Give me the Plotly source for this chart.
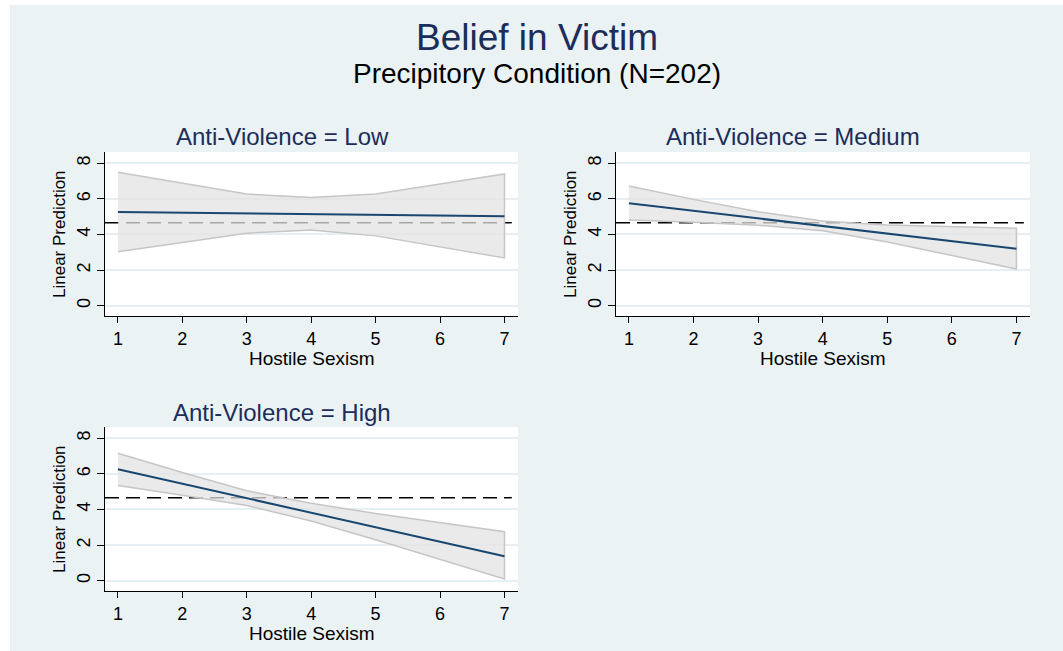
import plotly.graph_objects as go

W, H = 1063, 651

# ---- data ----
x_vals = [1, 2, 3, 4, 5, 6, 7]
x_ticks = [1, 2, 3, 4, 5, 6, 7]
y_ticks = [0, 2, 4, 6, 8]

low_mean = [5.26, 5.22, 5.18, 5.14, 5.10, 5.06, 5.02]
low_upper = [7.49, 6.87, 6.27, 6.07, 6.27, 6.83, 7.40]
low_lower = [3.03, 3.55, 4.07, 4.25, 3.92, 3.30, 2.68]

med_mean = [5.75, 5.33, 4.90, 4.48, 4.05, 3.63, 3.20]
med_upper = [6.72, 5.97, 5.28, 4.75, 4.53, 4.43, 4.35]
med_lower = [4.81, 4.68, 4.52, 4.21, 3.58, 2.83, 2.06]

high_mean = [6.26, 5.44, 4.63, 3.81, 3.00, 2.18, 1.37]
high_upper = [7.16, 6.07, 5.05, 4.35, 3.77, 3.25, 2.75]
high_lower = [5.34, 4.80, 4.22, 3.35, 2.30, 1.20, 0.09]

ref_value = 4.66

panel_titles = ["Anti-Violence = Low", "Anti-Violence = Medium", "Anti-Violence = High"]
main_title = "Belief in Victim"
subtitle = "Precipitory Condition (N=202)"
x_title = "Hostile Sexism"
y_title = "Linear Prediction"

# ---- styles ----
BG = "#EAF2F3"
NAVY = "#1A476F"
TITLE_C = "#1C2D5A"
BAND_FILL = "rgba(226,226,226,0.74)"
BAND_LINE = "#C6C6C6"
GRID = "#E6EFF2"
FONT = "Liberation Sans, Arial, sans-serif"


def fx(px):
    return px / W


def fy(py):
    return 1 - py / H


panels = [
    dict(mean=low_mean, up=low_upper, lo=low_lower, xd=(105, 518), yd=(152, 316), tx=282, ty=137),
    dict(mean=med_mean, up=med_upper, lo=med_lower, xd=(616, 1030), yd=(152, 316), tx=793, ty=137),
    dict(mean=high_mean, up=high_upper, lo=high_lower, xd=(105, 518), yd=(427, 591), tx=282, ty=412),
]

fig = go.Figure()
annotations = []
shapes = [
    dict(type="rect", xref="paper", yref="paper", x0=0, x1=fx(10), y0=0, y1=1,
         fillcolor="white", line_width=0, layer="below"),
    dict(type="rect", xref="paper", yref="paper", x0=0, x1=1, y0=fy(5), y1=1,
         fillcolor="white", line_width=0, layer="below"),
]

for i, p in enumerate(panels):
    n = "" if i == 0 else str(i + 1)
    xa, ya = "x" + n, "y" + n
    # band
    fig.add_trace(go.Scatter(x=x_vals + x_vals[::-1], y=p["up"] + p["lo"][::-1],
                             xaxis=xa, yaxis=ya, mode="lines", fill="toself",
                             fillcolor=BAND_FILL, line=dict(color=BAND_LINE, width=1.5),
                             showlegend=False, hoverinfo="skip"))
    # mean line
    fig.add_trace(go.Scatter(x=x_vals, y=p["mean"], xaxis=xa, yaxis=ya, mode="lines",
                             line=dict(color=NAVY, width=2), showlegend=False))
    # reference line
    shapes.append(dict(type="line", xref=xa + " domain", yref=ya, x0=0, x1=0.985,
                       y0=ref_value, y1=ref_value, layer="below",
                       line=dict(color="black", width=1.5, dash="14px,7px")))
    ax = dict(domain=[fx(p["xd"][0]), fx(p["xd"][1])], range=[0.8, 7.21], anchor=ya,
              tickmode="array", tickvals=x_ticks, ticks="outside", ticklen=6,
              tickcolor="black", showline=True, linecolor="black", linewidth=1,
              showgrid=False, zeroline=False, automargin=False,
              tickfont=dict(family=FONT, size=18, color="black"))
    ay = dict(domain=[fy(p["yd"][1]), fy(p["yd"][0])], range=[-0.58, 8.63], anchor=xa,
              tickmode="array", tickvals=y_ticks, ticks="outside", ticklen=7,
              tickcolor="black", showline=True, linecolor="black", linewidth=1,
              showgrid=True, gridcolor=GRID, gridwidth=1.5, zeroline=False,
              tickangle=-90, automargin=False,
              tickfont=dict(family=FONT, size=18, color="black"))
    fig.update_layout(**{"xaxis" + n: ax, "yaxis" + n: ay})

    cx = (p["xd"][0] + p["xd"][1]) / 2
    cy = (p["yd"][0] + p["yd"][1]) / 2
    annotations.append(dict(text=panel_titles[i], x=fx(p["tx"]), y=fy(p["ty"]),
                            xref="paper", yref="paper", showarrow=False,
                            xanchor="center", yanchor="middle",
                            font=dict(family=FONT, size=24, color=TITLE_C)))
    annotations.append(dict(text=x_title, x=fx(cx), y=fy(p["yd"][1] + 42),
                            xref="paper", yref="paper", showarrow=False,
                            xanchor="center", yanchor="middle",
                            font=dict(family=FONT, size=19, color="black")))
    annotations.append(dict(text=y_title, x=fx(p["xd"][0] - 46), y=fy(cy),
                            xref="paper", yref="paper", showarrow=False, textangle=-90,
                            xanchor="center", yanchor="middle",
                            font=dict(family=FONT, size=17, color="black")))

annotations.append(dict(text=main_title, x=fx(537), y=fy(37), xref="paper", yref="paper",
                        showarrow=False, xanchor="center", yanchor="middle",
                        font=dict(family=FONT, size=37, color=TITLE_C)))
annotations.append(dict(text=subtitle, x=fx(537), y=fy(73), xref="paper", yref="paper",
                        showarrow=False, xanchor="center", yanchor="middle",
                        font=dict(family=FONT, size=28, color="black")))

fig.update_layout(width=W, height=H, margin=dict(l=0, r=0, t=0, b=0),
                  paper_bgcolor=BG, plot_bgcolor="white",
                  annotations=annotations, shapes=shapes, showlegend=False)

fig.write_html("out.html", config={"displayModeBar": False},
               post_script="document.body.style.margin='0';")
